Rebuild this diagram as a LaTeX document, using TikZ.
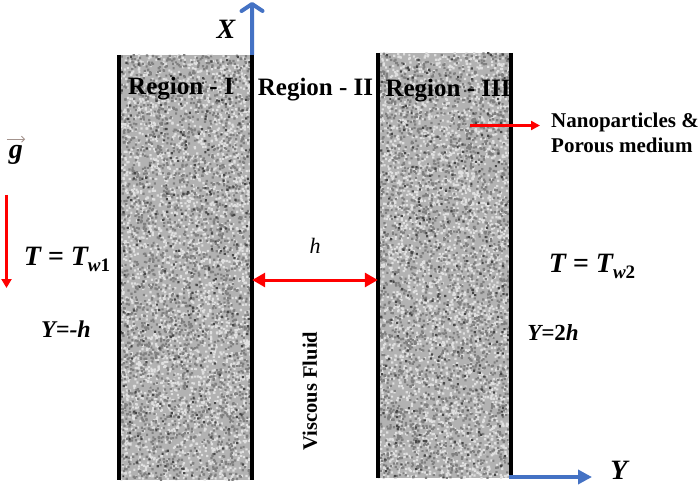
\documentclass[tikz,border=0pt]{standalone}
\usepackage{fontspec}
\setmainfont{Liberation Serif}
\usetikzlibrary{arrows.meta}

\definecolor{axisblue}{HTML}{4472C4}
\definecolor{gravred}{HTML}{FF0000}
\definecolor{gvecgrey}{HTML}{A3938D}

\newcommand{\speckle}[3]{% colour, rows, dots per row
	\foreach \row in {1,...,#2} {
		\fill [#1] foreach \dot in {1,...,#3} {(rand*66.5-1.1,rand*212.5-1.1) rectangle ++(2.2,2.2)};
	}
}
\newcommand{\granite}{%
	\speckle{white!88!black}{40}{85}
	\speckle{white!50!black}{40}{65}
	\speckle{white!28!black}{10}{30}
}

\tikzstyle{panel} = [rectangle, minimum width=133pt, minimum height=425pt, inner sep=0pt, fill=white!70!black, path picture={\granite}]
\tikzstyle{wall} = [black, line width=3.5pt]
\tikzstyle{axis} = [axisblue, line width=4pt]
\tikzstyle{redarrow} = [gravred, line width=3pt]
\tikzstyle{label} = [inner sep=0pt, font=\fontsize{25}{29}\selectfont\bfseries]
\tikzstyle{symbol} = [inner sep=0pt, font=\fontsize{28}{32}\selectfont\bfseries\itshape]

\begin{document}
\begin{tikzpicture}[x=1pt,y=-1pt]
	
	\pgfmathsetseed{11}
	\useasboundingbox (0,0) rectangle (700,486);
	
	\node (region one) [panel] at (185.5,267.5) {};
	\node (region three) [panel] at (444.5,265.5) {};
	
	%walls
	\draw [wall] (region one.north west) -- (region one.south west);
	\draw [wall, line width=4pt] (region one.north east) -- (region one.south east);
	\draw [wall, line width=4pt] (region three.north west) -- (region three.south west);
	\draw [wall] (region three.north east) -- (region three.south east);
	
	\node (label one) [label] at (181,89) {Region - I};
	\node (label two) [label] at (315.5,90) {Region - II};
	\node (label three) [label] at (448,91) {Region - III};
	
	\node (x label) [symbol] at (226,29) {X};
	\node (y label) [symbol] at (619,470) {Y};
	\coordinate (x tip) at (252,2);
	\coordinate (y tip) at (592,477);
	\coordinate (y start) at (509,477);
	
	%axes
	\draw [axis, -{Straight Barb[length=7pt,width=21pt,round]}] (region one.north east) -- (x tip);
	\draw [axis, -{Triangle[length=14pt,width=14pt]}] (y start) -- (y tip);
	
	\node (g label) [symbol] at (16,155) {g};
	\coordinate (g start) at (6.5,195);
	\coordinate (g tip) at (6.5,288);
	\draw [gvecgrey, line width=1pt, -{Straight Barb[length=3pt,width=6pt]}] ([xshift=-2pt,yshift=6pt]g label.north west) -- ([xshift=2pt,yshift=6pt]g label.north east);
	\draw [redarrow, -{Triangle[length=9pt,width=10pt]}] (g start) -- (g tip);
	
	\node (wall temp one) [symbol] at (67,259) {T = T\raisebox{-6pt}{\fontsize{19}{22}\selectfont w\upshape 1}};
	\node (wall temp two) [symbol] at (592,266) {T = T\raisebox{-6pt}{\fontsize{19}{22}\selectfont w\upshape 2}};
	\node (wall pos one) [label, font=\fontsize{24}{28}\selectfont\bfseries\itshape] at (66,329) {Y=-h};
	\node (wall pos two) [label, font=\fontsize{23}{27}\selectfont\bfseries\itshape] at (553,333) {Y={\upshape 2}h};
	
	\node (gap) [inner sep=0pt, font=\fontsize{22}{26}\selectfont\itshape] at (315,246) {h};
	\draw [redarrow, {Triangle[length=13pt,width=14pt]}-{Triangle[length=13pt,width=14pt]}] (region one.east |- 0,280) -- (region three.west |- 0,280);
	
	\node (fluid) [label, rotate=90, font=\fontsize{20.5}{24}\selectfont\bfseries] at (310,391) {Viscous Fluid};
	
	\node (particles) [label, anchor=west, align=left, font=\fontsize{21}{25}\selectfont\bfseries] at (551,132.5) {Nanoparticles \&\\Porous medium};
	\coordinate (np start) at (470,125.5);
	\coordinate (np tip) at (540,125.5);
	\draw [redarrow, line width=2.4pt, -{Triangle[length=9pt,width=9pt]}] (np start) -- (np tip);
	
\end{tikzpicture}
\end{document}
